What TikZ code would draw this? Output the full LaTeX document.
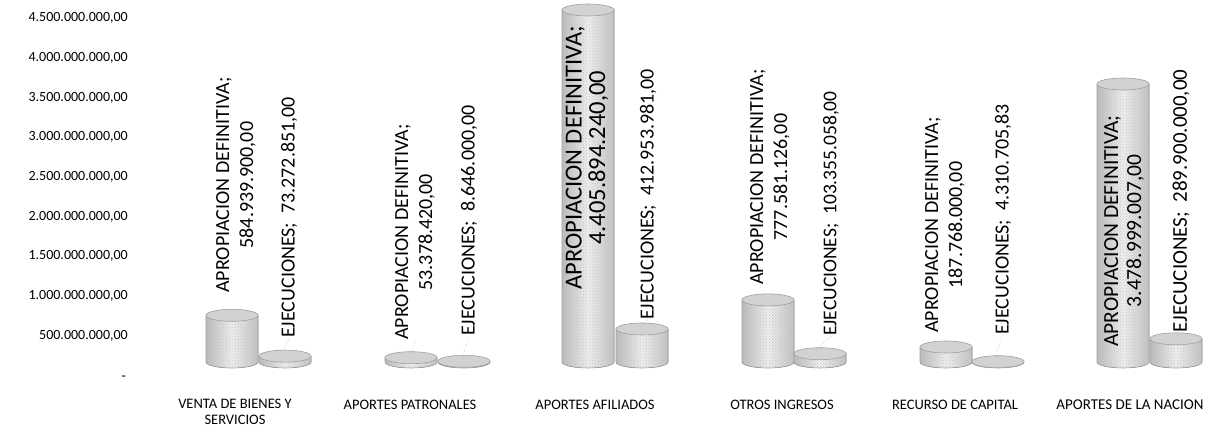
\documentclass[tikz,border=0pt]{standalone}
\usepackage{fontspec}
\setmainfont{Carlito}
\usetikzlibrary{patterns}
\begin{document}
\begin{tikzpicture}[x=1pt,y=1pt,
  barbody/.style={left color=gray!55,right color=gray!50,middle color=gray!12},
  bartex/.style={pattern=crosshatch dots,pattern color=gray!45},
  baredge/.style={draw=gray!75,line width=0.6pt},
  bartop/.style={fill=gray!35,draw=gray!75,line width=0.6pt},
  axislbl/.style={anchor=east,inner sep=0pt,font=\fontsize{14}{16}\selectfont},
  catlbl/.style={anchor=center,inner sep=0pt,align=center,font=\fontsize{14.5}{16}\selectfont},
  vallbl/.style={anchor=west,rotate=90,inner sep=0pt,align=center,font=\fontsize{20}{24}\selectfont},
  leader/.style={draw=gray!70,line width=0.5pt,dotted}]
\useasboundingbox[fill=white] (0,0) rectangle (1215,431);
\def\R{26}\def\ry{6}\def\B{69}
\newcommand\cylbar[2]{%
  \fill[barbody] ({#1-\R},\B) -- ({#1-\R},{\B+#2}) -- ({#1+\R},{\B+#2}) -- ({#1+\R},\B)
     arc[start angle=0,end angle=-180,x radius=\R,y radius=\ry] -- cycle;
  \fill[bartex] ({#1-\R},\B) -- ({#1-\R},{\B+#2}) -- ({#1+\R},{\B+#2}) -- ({#1+\R},\B)
     arc[start angle=0,end angle=-180,x radius=\R,y radius=\ry] -- cycle;
  \draw[baredge] ({#1-\R},{\B+#2}) -- ({#1-\R},\B)
     arc[start angle=180,end angle=360,x radius=\R,y radius=\ry] -- ({#1+\R},{\B+#2});
  \filldraw[bartop] (#1,{\B+#2}) ellipse[x radius=\R,y radius=\ry];
}
% axis labels
\node[axislbl] (y45) at (128,413) {4.500.000.000,00};
\node[axislbl] (y40) at (128,373) {4.000.000.000,00};
\node[axislbl] (y35) at (128,333) {3.500.000.000,00};
\node[axislbl] (y30) at (128,294) {3.000.000.000,00};
\node[axislbl] (y25) at (128,254) {2.500.000.000,00};
\node[axislbl] (y20) at (128,214) {2.000.000.000,00};
\node[axislbl] (y15) at (128,175) {1.500.000.000,00};
\node[axislbl] (y10) at (128,135) {1.000.000.000,00};
\node[axislbl] (y05) at (128,95) {500.000.000,00};
\node[axislbl] (y00) at (126,53) {-};
% bars: apropiacion (left) and ejecuciones (right)
\cylbar{232}{46.7}\cylbar{285}{5.9}
\cylbar{411}{4.3}\cylbar{464}{0.7}
\cylbar{588}{352}\cylbar{642}{33}
\cylbar{768}{62.1}\cylbar{820}{8.3}
\cylbar{946}{15}\cylbar{998}{0.3}
\cylbar{1123}{278}\cylbar{1176}{23.2}
% category labels
\node[catlbl] (c1) at (235,19) {VENTA DE BIENES Y\\SERVICIOS};
\node[catlbl] (c2) at (410,26) {APORTES PATRONALES};
\node[catlbl] (c3) at (595,26) {APORTES AFILIADOS};
\node[catlbl] (c4) at (782,26) {OTROS INGRESOS};
\node[catlbl] (c5) at (955,26) {RECURSO DE CAPITAL};
\node[catlbl,font=\fontsize{15}{16}\selectfont] (c6) at (1130,26) {APORTES DE LA NACION};
% value labels
\node[vallbl] (a1) at (236,138) {APROPIACION DEFINITIVA;\\584.939.900,00};
\node[vallbl] (e1) at (289,93) {EJECUCIONES;\ \ 73.272.851,00};
\node[vallbl] (a2) at (415,91) {APROPIACION DEFINITIVA;\\53.378.420,00};
\node[vallbl] (e2) at (469,95) {EJECUCIONES;\ \ 8.646.000,00};
\node[vallbl,font=\fontsize{24.5}{23.5}\selectfont] (a3) at (587,141) {APROPIACION DEFINITIVA;\\4.405.894.240,00};
\node[vallbl] (e3) at (648,111) {EJECUCIONES;\ \ 412.953.981,00};
\node[vallbl] (a4) at (770,146) {APROPIACION DEFINITIVA;\\777.581.126,00};
\node[vallbl,font=\fontsize{19.5}{24}\selectfont] (e4) at (831,95) {EJECUCIONES;\ \ 103.355.058,00};
\node[vallbl] (a5) at (945,98) {APROPIACION DEFINITIVA;\\187.768.000,00};
\node[vallbl] (e5) at (1003,96) {EJECUCIONES;\ \ 4.310.705,83};
\node[vallbl,font=\fontsize{21.5}{23}\selectfont] (a6) at (1124,84) {APROPIACION DEFINITIVA;\\3.478.999.007,00};
\node[vallbl,font=\fontsize{21}{24}\selectfont] (e6) at (1181,98) {EJECUCIONES;\ \ 289.900.000,00};
% leader lines
\coordinate (l1e) at (283,80); \draw[leader] (l1e) -- (e1.west);
\coordinate (l2a) at (412,78); \draw[leader] (l2a) -- (a2.west);
\coordinate (l2e) at (462,72); \draw[leader] (l2e) -- (e2.west);
\coordinate (l3e) at (640,104); \draw[leader] (l3e) -- (e3.west);
\coordinate (l4e) at (816,80); \draw[leader] (l4e) -- (e4.west);
\coordinate (l5e) at (994,72); \draw[leader] (l5e) -- (e5.west);
\coordinate (l6e) at (1175,94); \draw[leader] (l6e) -- (e6.west);
\end{tikzpicture}
\end{document}
